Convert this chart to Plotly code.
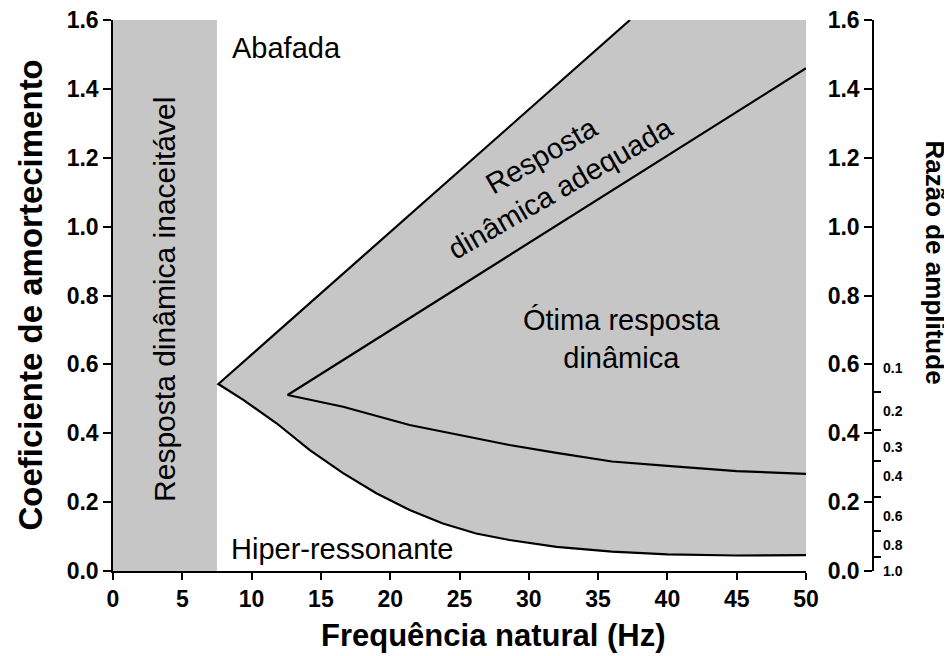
import plotly.graph_objects as go

# ---------------- data ----------------
freq_ticks = [0, 5, 10, 15, 20, 25, 30, 35, 40, 45, 50]
damp_ticks = [0.0, 0.2, 0.4, 0.6, 0.8, 1.0, 1.2, 1.4, 1.6]
x_max = 50
y_max = 1.6
unacceptable_fmax = 7.5

outer_upper_x = [7.6, 37.3]
outer_upper_y = [0.543, 1.6]
outer_lower_x = [7.6, 9.4, 11.8, 14.2, 16.6, 19.0, 21.4, 23.8, 26.2, 28.6, 32.0, 36.0, 40.0, 45.0, 50.0]
outer_lower_y = [0.543, 0.497, 0.429, 0.351, 0.284, 0.226, 0.177, 0.138, 0.109, 0.090, 0.070, 0.056, 0.048, 0.045, 0.046]

inner_upper_x = [12.6, 50.0]
inner_upper_y = [0.511, 1.46]
inner_lower_x = [12.6, 16.6, 21.4, 25.0, 28.6, 32.0, 36.0, 40.0, 45.0, 50.0]
inner_lower_y = [0.511, 0.477, 0.424, 0.395, 0.366, 0.343, 0.318, 0.305, 0.290, 0.282]

amp_ratio_labels = ["0.1", "0.2", "0.3", "0.4", "0.6", "0.8", "1.0"]
amp_ratio_pos = [0.59, 0.465, 0.36, 0.275, 0.16, 0.075, 0.0]
amp_ratio_minor = [0.52, 0.41, 0.32, 0.215, 0.115, 0.04]

GRAY = "#c6c6c6"
FONT = "Liberation Sans, Arial, sans-serif"

fig = go.Figure()

# unacceptable region
fig.add_trace(go.Scatter(
    x=[0, unacceptable_fmax, unacceptable_fmax, 0],
    y=[0, 0, y_max, y_max],
    fill="toself", fillcolor=GRAY, mode="none",
    hoverinfo="skip", showlegend=False))

# acceptable region (between outer curves)
poly_x = outer_upper_x + [x_max] + outer_lower_x[::-1]
poly_y = outer_upper_y + [y_max] + outer_lower_y[::-1]
fig.add_trace(go.Scatter(
    x=poly_x, y=poly_y, fill="toself", fillcolor=GRAY, mode="none",
    hoverinfo="skip", showlegend=False))

# outer boundary
fig.add_trace(go.Scatter(
    x=outer_upper_x[::-1] + outer_lower_x[1:],
    y=outer_upper_y[::-1] + outer_lower_y[1:],
    mode="lines", line=dict(color="black", width=2.2),
    hoverinfo="skip", showlegend=False))

# inner boundary
fig.add_trace(go.Scatter(
    x=inner_upper_x[::-1] + inner_lower_x[1:],
    y=inner_upper_y[::-1] + inner_lower_y[1:],
    mode="lines", line=dict(color="black", width=2.2),
    hoverinfo="skip", showlegend=False))

# dummy traces for secondary axes
fig.add_trace(go.Scatter(x=[0], y=[0], yaxis="y2", mode="markers",
                         marker=dict(opacity=0), hoverinfo="skip", showlegend=False))
fig.add_trace(go.Scatter(x=[0], y=[0], yaxis="y3", mode="markers",
                         marker=dict(opacity=0), hoverinfo="skip", showlegend=False))

tickfont = dict(family=FONT, size=23, color="black", weight="bold")

# page body has an 8px margin: figure is drawn at (8, 8)
fig.update_layout(
    width=944, height=648,
    margin=dict(l=105, r=79, t=12, b=85, autoexpand=False),
    plot_bgcolor="white", paper_bgcolor="white",
    xaxis=dict(domain=[0, 693 / 760], range=[0, x_max], tickvals=freq_ticks,
               showline=True, linecolor="black", linewidth=1.5,
               ticks="outside", ticklen=7, tickwidth=1.5, tickcolor="black",
               tickfont=tickfont, showgrid=False, zeroline=False, automargin=False,
               ticklabeloverflow="allow"),
    yaxis=dict(range=[0, y_max], tickvals=damp_ticks, tickformat=".1f",
               showline=True, linecolor="black", linewidth=1.5,
               ticks="outside", ticklen=8, tickwidth=1.5, tickcolor="black",
               tickfont=tickfont, showgrid=False, zeroline=False, automargin=False,
               ticklabeloverflow="allow"),
    yaxis2=dict(overlaying="y", anchor="free", position=1, side="left",
                range=[0, y_max], tickvals=damp_ticks, tickformat=".1f",
                showline=True, linecolor="black", linewidth=1.5,
                ticks="outside", ticklen=8, tickwidth=1.5, tickcolor="black",
                tickfont=tickfont, showgrid=False, zeroline=False, automargin=False,
                ticklabeloverflow="allow"),
    yaxis3=dict(overlaying="y", anchor="free", position=1, side="right",
                range=[0, y_max], tickvals=amp_ratio_pos, ticktext=amp_ratio_labels,
                showline=False, ticks="", ticklabelstandoff=9,
                tickfont=dict(family=FONT, size=14, color="black", weight="bold"),
                minor=dict(tickmode="array", tickvals=amp_ratio_minor, ticks="outside",
                           ticklen=7, tickwidth=1.5, tickcolor="black", showgrid=False),
                showgrid=False, zeroline=False, automargin=False,
                ticklabeloverflow="allow"),
)

ann_font = dict(family=FONT, size=29, color="black")
title_font = dict(family=FONT, size=31, color="black", weight="bold")

annotations = [
    dict(text="Coeficiente de amortecimento", xref="paper", yref="paper",
         x=(30 - 113) / 760, y=0.5, textangle=-90, showarrow=False,
         font=dict(family=FONT, size=33, color="black", weight="bold"),
         xanchor="center", yanchor="middle"),
    dict(text="Razão de amplitude", xref="paper", yref="paper",
         x=(935 - 113) / 760, y=0.56, textangle=90, showarrow=False,
         font=dict(family=FONT, size=26, color="black", weight="bold"),
         xanchor="center", yanchor="middle"),
    dict(text="Frequência natural (Hz)", xref="paper", yref="paper",
         x=(494 - 113) / 760, y=(571 - 635) / 551, showarrow=False, font=title_font,
         xanchor="center", yanchor="middle"),
    dict(text="Abafada", x=12.55, y=1.52, showarrow=False, font=ann_font),
    dict(text="Hiper-ressonante", x=16.5, y=0.065, showarrow=False, font=ann_font),
    dict(text="Resposta dinâmica inaceitável", x=3.75, y=0.79, textangle=-90,
         showarrow=False, font=dict(family=FONT, size=30, color="black")),
    dict(text="Ótima resposta<br>dinâmica", x=36.7, y=0.675, showarrow=False,
         font=ann_font),
    dict(text="Resposta<br>dinâmica adequada", x=31.6, y=1.16, textangle=-30,
         showarrow=False, font=ann_font),
]
fig.update_layout(annotations=annotations)

fig.write_html("out.html")
